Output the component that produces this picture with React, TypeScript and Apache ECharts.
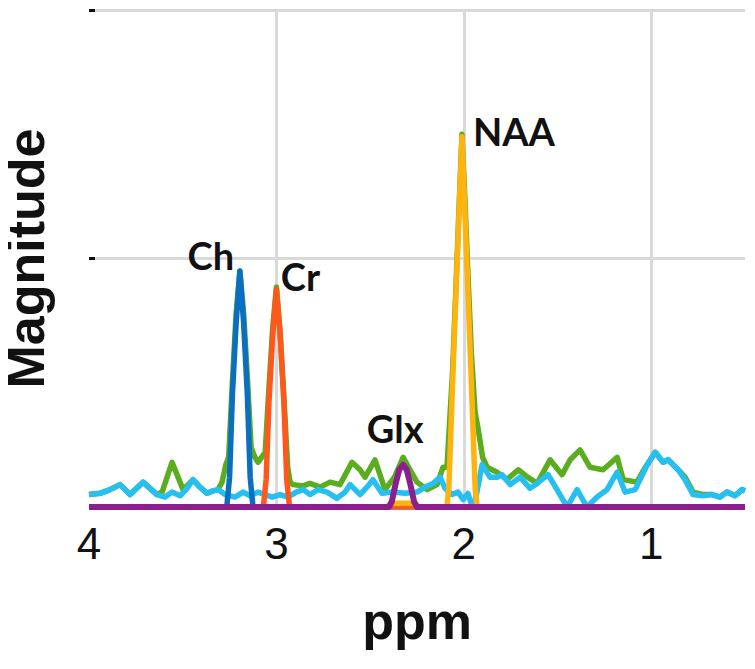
import React, { useEffect, useRef } from "react";
import * as echarts from "echarts";

// ---- data (ppm positions and magnitudes) ----
const greenPpm = [4.0, 3.941, 3.888, 3.835, 3.781, 3.712, 3.637, 3.61, 3.557, 3.498, 3.445, 3.408, 3.37, 3.338, 3.312, 3.29, 3.27, 3.255, 3.235, 3.215, 3.195, 3.175, 3.155, 3.135, 3.115, 3.098, 3.06, 3.04, 3.02, 3.0, 2.98, 2.96, 2.94, 2.927, 2.911, 2.858, 2.821, 2.767, 2.714, 2.661, 2.597, 2.554, 2.527, 2.474, 2.421, 2.37, 2.324, 2.28, 2.25, 2.196, 2.143, 2.111, 2.09, 2.06, 2.04, 2.025, 2.01, 1.995, 1.98, 1.96, 1.94, 1.925, 1.9, 1.876, 1.823, 1.77, 1.71, 1.66, 1.609, 1.54, 1.476, 1.433, 1.38, 1.327, 1.257, 1.182, 1.15, 1.076, 1.04, 1.022, 0.979, 0.937, 0.91, 0.857, 0.82, 0.777, 0.724, 0.676, 0.633, 0.596, 0.553, 0.516, 0.5];
const greenVal = [0.05, 0.055, 0.07, 0.09, 0.05, 0.1, 0.05, 0.06, 0.18, 0.07, 0.11, 0.08, 0.055, 0.065, 0.07, 0.1, 0.17, 0.2, 0.5, 0.78, 0.95, 0.78, 0.52, 0.24, 0.2, 0.18, 0.22, 0.48, 0.72, 0.885, 0.7, 0.44, 0.16, 0.1, 0.09, 0.085, 0.095, 0.08, 0.1, 0.09, 0.18, 0.15, 0.12, 0.19, 0.07, 0.12, 0.2, 0.14, 0.1, 0.07, 0.09, 0.16, 0.16, 0.55, 0.93, 1.22, 1.5, 1.25, 0.97, 0.62, 0.38, 0.32, 0.2, 0.16, 0.14, 0.11, 0.15, 0.12, 0.095, 0.19, 0.13, 0.19, 0.23, 0.16, 0.15, 0.2, 0.11, 0.1, 0.15, 0.17, 0.22, 0.18, 0.19, 0.15, 0.12, 0.06, 0.05, 0.05, 0.04, 0.06, 0.045, 0.07, 0.065];

const cyanPpm = [4.0, 3.941, 3.888, 3.835, 3.781, 3.712, 3.637, 3.594, 3.557, 3.514, 3.482, 3.445, 3.408, 3.37, 3.338, 3.312, 3.274, 3.221, 3.178, 3.141, 3.098, 3.061, 3.023, 2.981, 2.938, 2.895, 2.858, 2.821, 2.778, 2.73, 2.677, 2.634, 2.607, 2.554, 2.517, 2.485, 2.437, 2.378, 2.314, 2.25, 2.207, 2.164, 2.127, 2.1, 2.063, 2.031, 2.004, 1.978, 1.956, 1.935, 1.903, 1.86, 1.823, 1.796, 1.753, 1.7, 1.647, 1.609, 1.551, 1.503, 1.449, 1.396, 1.343, 1.289, 1.236, 1.182, 1.14, 1.086, 1.022, 0.979, 0.937, 0.91, 0.857, 0.82, 0.777, 0.724, 0.676, 0.633, 0.596, 0.553, 0.516, 0.5];
const cyanVal = [0.05, 0.055, 0.07, 0.09, 0.05, 0.1, 0.05, 0.04, 0.06, 0.045, 0.07, 0.11, 0.08, 0.055, 0.065, 0.07, 0.05, 0.04, 0.06, 0.045, 0.06, 0.05, 0.04, 0.05, 0.04, 0.06, 0.07, 0.05, 0.07, 0.06, 0.035, 0.06, 0.09, 0.05, 0.08, 0.11, 0.055, 0.06, 0.055, 0.06, 0.08, 0.095, 0.12, 0.075, 0.05, 0.06, 0.03, 0.055, 0.0, 0.04, 0.17, 0.12, 0.12, 0.13, 0.09, 0.12, 0.075, 0.095, 0.13, 0.07, 0.0, 0.07, 0.0, 0.04, 0.07, 0.14, 0.06, 0.07, 0.17, 0.22, 0.18, 0.19, 0.15, 0.11, 0.05, 0.045, 0.05, 0.04, 0.06, 0.045, 0.07, 0.065];

const chPpm = [4.0, 3.265, 3.25, 3.235, 3.215, 3.195, 3.175, 3.155, 3.14, 3.125, 0.5];
const chVal = [0, 0, 0.12, 0.45, 0.74, 0.95, 0.74, 0.45, 0.12, 0, 0];

const crPpm = [4.0, 3.07, 3.055, 3.04, 3.02, 3.0, 2.98, 2.96, 2.945, 2.93, 0.5];
const crVal = [0, 0, 0.11, 0.42, 0.69, 0.875, 0.69, 0.42, 0.11, 0, 0];

const naaPpm = [4.0, 2.41, 2.39, 2.26, 2.24, 2.09, 2.08, 2.06, 2.04, 2.025, 2.01, 1.995, 1.98, 1.96, 1.94, 1.93, 0.5];
const naaVal = [0, 0, 0.015, 0.015, 0, 0, 0.08, 0.5, 0.9, 1.2, 1.49, 1.2, 0.9, 0.5, 0.08, 0, 0];

const glxPpm = [4.0, 2.4, 2.385, 2.365, 2.345, 2.324, 2.305, 2.285, 2.265, 2.25, 0.5];
const glxVal = [0, 0, 0.02, 0.09, 0.15, 0.17, 0.15, 0.09, 0.02, 0, 0];

const peakNames = ["Ch", "Cr", "NAA", "Glx"];
const peakPpm = [3.195, 3.0, 2.01, 2.324];
const peakVal = [0.95, 0.875, 1.49, 0.17];

const xTickValues = [1, 2, 3];
const xLabelValues = [1, 2, 3, 4];

const zip = (xs: number[], ys: number[]) => xs.map((x, i) => [x, ys[i]]);

const labelOffsets: Record<string, number[]> = {
  Ch: [-29, -16],
  Cr: [24, -14],
  NAA: [52, -6],
  Glx: [-8, -37],
};

export default function App() {
  const ref = useRef<HTMLDivElement>(null);

  useEffect(() => {
    if (!ref.current) return;
    const chart = echarts.init(ref.current, undefined, { renderer: "svg" });

    const mkLine = (name: string, xs: number[], ys: number[], color: string, z: number, width: number, peakIdx?: number) => {
      const s: any = {
        name,
        type: "line",
        data: zip(xs, ys),
        showSymbol: false,
        symbol: "none",
        z,
        lineStyle: { color, width, join: "round" },
        itemStyle: { color },
      };
      if (peakIdx !== undefined) {
        const nm = peakNames[peakIdx];
        s.markPoint = {
          symbol: "circle",
          symbolSize: 1,
          itemStyle: { color: "rgba(0,0,0,0)" },
          data: [
            {
              name: nm,
              coord: [peakPpm[peakIdx], peakVal[peakIdx]],
              label: {
                show: true,
                position: "inside",
                formatter: nm,
                offset: labelOffsets[nm],
                fontFamily: "Lato",
                fontWeight: "bold",
                fontSize: 38,
                color: "#111",
              },
            },
          ],
        };
      }
      return s;
    };

    chart.setOption({
      animation: false,
      backgroundColor: "#ffffff",
      grid: { left: 81, right: 10, top: 2, bottom: 162, containLabel: false, outerBoundsMode: "none" },
      xAxis: {
        type: "value",
        inverse: true,
        min: 0.5,
        max: 4,
        axisLine: { show: false },
        axisTick: { show: false, customValues: xTickValues },
        splitLine: { show: true, lineStyle: { color: "#d9d9d9", width: 3 } },
        axisLabel: {
          customValues: xLabelValues,
          fontFamily: "Liberation Sans",
          fontSize: 44,
          color: "#111",
          margin: 14,
        },
        name: "ppm",
        nameLocation: "middle",
        nameGap: 88,
        nameTextStyle: { fontFamily: "Liberation Sans", fontWeight: "bold", fontSize: 52, color: "#111" },
      },
      yAxis: {
        type: "value",
        min: 0,
        max: 2,
        interval: 1,
        axisLine: { show: false },
        axisTick: { show: true, inside: true, length: 6, lineStyle: { color: "#111", width: 3 } },
        axisLabel: { show: false },
        splitLine: { show: true, lineStyle: { color: "#d9d9d9", width: 3 } },
        name: "Magnitude",
        nameLocation: "middle",
        nameGap: 43,
        nameTextStyle: { fontFamily: "Liberation Sans", fontWeight: "bold", fontSize: 52, lineHeight: 40, color: "#111" },
      },
      series: [
        mkLine("spectrum", greenPpm, greenVal, "#5aad1f", 2, 5.5),
        mkLine("residual", cyanPpm, cyanVal, "#25bff2", 3, 5.5),
        mkLine("Ch", chPpm, chVal, "#0a6fc0", 4, 5.5, 0),
        mkLine("Cr", crPpm, crVal, "#ff571c", 5, 5.5, 1),
        mkLine("NAA", naaPpm, naaVal, "#ffb30d", 6, 5.5, 2),
        mkLine("Glx", glxPpm, glxVal, "#8b1f8e", 7, 6, 3),
      ],
    });

    return () => chart.dispose();
  }, []);

  return <div ref={ref} style={{ width: 747, height: 661 }} />;
}
